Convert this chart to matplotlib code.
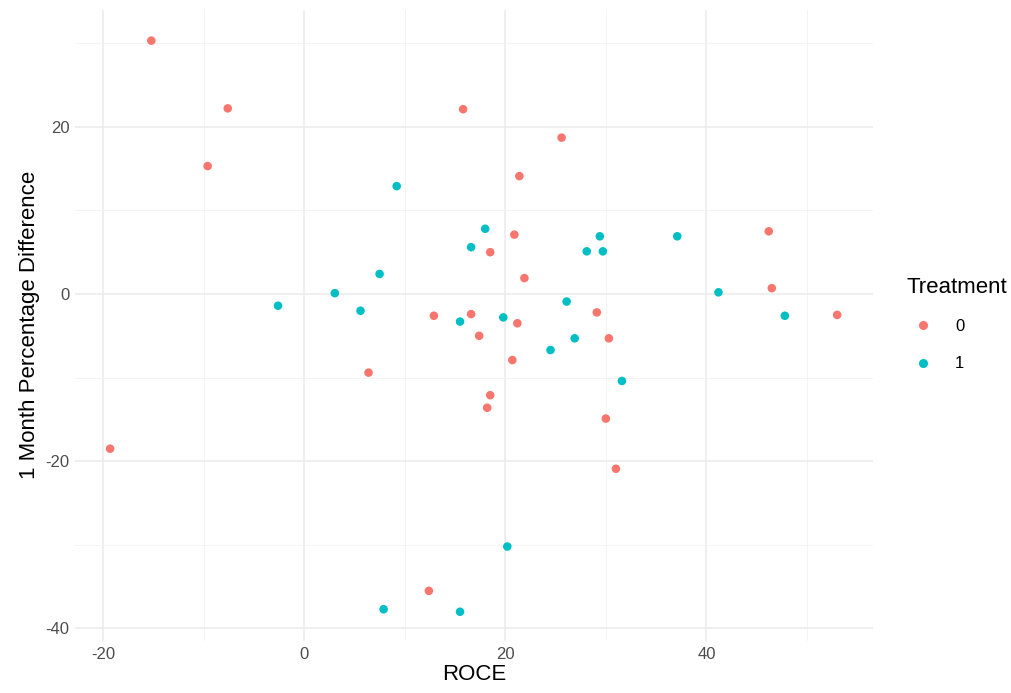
import matplotlib
matplotlib.use("Agg")
import matplotlib.pyplot as plt
from matplotlib.lines import Line2D

plt.rcParams["font.family"] = ["Liberation Sans", "DejaVu Sans"]
plt.rcParams["axes.unicode_minus"] = False

# ROCE vs 1 month percentage difference, by treatment group
roce_0 = [-15.2, -7.6, -9.6, 15.8, 21.4, 25.6, 18.5, 20.9, 21.9, 46.2,
          12.9, 16.6, 17.4, 21.2, 46.5, 53.0, 29.1, 30.3, 20.7, 6.4,
          18.5, 18.2, 30.0, 31.0, -19.3, 12.4]
diff_0 = [30.3, 22.2, 15.3, 22.1, 14.1, 18.7, 5.0, 7.1, 1.9, 7.5,
          -2.6, -2.4, -5.0, -3.5, 0.7, -2.5, -2.2, -5.3, -7.9, -9.4,
          -12.1, -13.6, -14.9, -20.9, -18.5, -35.5]

roce_1 = [9.2, 18.0, 16.6, 29.4, 28.1, 29.7, 37.1, 7.5, 3.05, -2.6,
          5.6, 15.5, 19.8, 26.1, 41.2, 47.8, 26.9, 24.5, 31.6, 20.2,
          7.9, 15.5]
diff_1 = [12.9, 7.8, 5.6, 6.9, 5.1, 5.1, 6.9, 2.4, 0.1, -1.4,
          -2.0, -3.3, -2.8, -0.9, 0.2, -2.6, -5.3, -6.7, -10.4, -30.2,
          -37.7, -38.0]

red = "#F8766D"
teal = "#00BFC4"

fig = plt.figure(figsize=(10.12, 6.93), dpi=100)
ax = fig.add_axes([0.074, 0.075, 0.789, 0.911])

ax.scatter(roce_0, diff_0, s=38, color=red, edgecolors="none", zorder=3)
ax.scatter(roce_1, diff_1, s=38, color=teal, edgecolors="none", zorder=3)

ax.set_xlim(-22.8, 56.6)
ax.set_ylim(-41.5, 34.0)
ax.set_xticks([-20, 0, 20, 40])
ax.set_yticks([-40, -20, 0, 20])
ax.set_xticks([-10, 10, 30, 50], minor=True)
ax.set_yticks([-30, -10, 10, 30], minor=True)

ax.grid(which="major", color="#EBEBEB", linewidth=1.1)
ax.grid(which="minor", color="#F2F2F2", linewidth=0.6)
ax.set_axisbelow(True)
for sp in ax.spines.values():
    sp.set_visible(False)
ax.tick_params(which="both", length=0, labelsize=12, labelcolor="#4D4D4D", pad=4)

ax.set_xlabel("ROCE", fontsize=16, labelpad=2)
ax.set_ylabel("1 Month Percentage Difference", fontsize=16, labelpad=4)

handles = [Line2D([], [], marker="o", linestyle="none", color=red, markersize=5.5),
           Line2D([], [], marker="o", linestyle="none", color=teal, markersize=5.5)]
leg = fig.legend(handles, ["0", "1"], title="Treatment", loc="center left",
                 bbox_to_anchor=(0.896, 0.532), frameon=False, fontsize=12,
                 title_fontsize=16, handletextpad=0.9, labelspacing=1.35,
                 handlelength=2.0, borderpad=0, borderaxespad=0)
leg._legend_box.align = "left"
leg._legend_box.sep = 15

fig.savefig("out.png", dpi=100)
